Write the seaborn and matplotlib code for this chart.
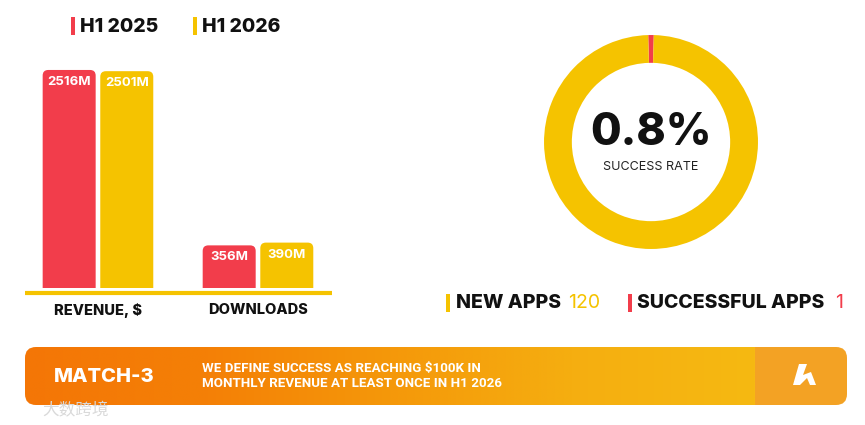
import numpy as np
import pandas as pd
import matplotlib
matplotlib.use("Agg")
import matplotlib.pyplot as plt
import seaborn as sns
from matplotlib.patches import FancyBboxPatch, Rectangle, Polygon
from matplotlib.colors import LinearSegmentedColormap

# data
metrics = ["REVENUE, $", "DOWNLOADS"]
periods = ["H1 2025", "H1 2026"]
h1_2025 = [2516, 356]
h1_2026 = [2501, 390]
new_apps = 120
successful_apps = 1
genre = "MATCH-3"
note = "WE DEFINE SUCCESS AS REACHING \\$100K IN\nMONTHLY REVENUE AT LEAST ONCE IN H1 2026"
watermark = "大数跨境"

RED = "#F23D4B"
YELLOW = "#F5C300"
W, H = 865, 425

sns.set_theme(style="white")
plt.rcParams["font.family"] = ["Inter", "DejaVu Sans"]

fig = plt.figure(figsize=(W / 100, H / 100), dpi=100)


def px_axes(x0, y0, x1, y1, **kw):
    # axes from pixel box (top-left origin)
    return fig.add_axes([x0 / W, 1 - y1 / H, (x1 - x0) / W, (y1 - y0) / H], **kw)


# background layer for banner / legend markers
bg = px_axes(0, 0, W, H, zorder=0)
bg.set_xlim(0, W)
bg.set_ylim(H, 0)
bg.axis("off")

# ---- bar chart ----
df = pd.DataFrame({
    "metric": metrics * 2,
    "period": [periods[0]] * 2 + [periods[1]] * 2,
    "value": h1_2025 + h1_2026,
})
ax = px_axes(25, 40, 332, 288, zorder=2)
sns.barplot(data=df, x="metric", y="value", hue="period", order=metrics,
            hue_order=periods, palette=[RED, YELLOW], width=0.72, gap=0.08,
            saturation=1, legend=False, ax=ax)
ax.set_xlim(-0.456, 1.4625)
ax.set_ylim(-169, 2885)
sns.despine(ax=ax, left=True, bottom=True)
ax.set_yticks([])
ax.set_xlabel("")
ax.set_ylabel("")
ax.tick_params(axis="x", length=0, pad=11)
for lab in ax.get_xticklabels():
    lab.set_fontweight("heavy")
    lab.set_fontsize(10.5)
    lab.set_color("#111111")
# baseline rule, a few px under the bars
bg.plot([25, 332], [293, 293], color=YELLOW, lw=3, solid_capstyle="butt")

fig.canvas.draw()
ybot = ax.get_ylim()[0]
p0 = ax.transData.transform((0, 0))
p1 = ax.transData.transform((1, 1))
aspect = (p1[0] - p0[0]) / (p1[1] - p0[1])
for bar in list(ax.patches):
    x, w, h = bar.get_x(), bar.get_width(), bar.get_height()
    fc = bar.get_facecolor()
    bar.set_visible(False)
    rb = FancyBboxPatch((x, ybot - 200), w, h - ybot + 200,
                        boxstyle="round,pad=0,rounding_size=0.035",
                        mutation_aspect=aspect, fc=fc, ec="none", zorder=3)
    ax.add_patch(rb)
    ax.annotate(f"{h:.0f}M", (x + w / 2, h), xytext=(0, -12),
                textcoords="offset pixels", ha="center", va="center",
                color="white", fontsize=9.5, fontweight="bold", zorder=4)

# top legend
for i, (name, col) in enumerate(zip(periods, [RED, YELLOW])):
    x0 = 71 + i * 122
    bg.add_patch(Rectangle((x0, 17), 4, 18, fc=col, ec="none"))
    bg.text(x0 + 9, 26.5, name, ha="left", va="center", fontsize=14,
            fontweight="heavy", color="#111111")

# ---- donut ----
dax = px_axes(651 - 115, 142 - 115, 651 + 115, 142 + 115, zorder=2)
share = successful_apps / new_apps
ang = 360 * share
dax.pie([successful_apps, new_apps - successful_apps], colors=[RED, YELLOW],
        startangle=90 + ang / 2, counterclock=False, radius=1,
        wedgeprops=dict(width=0.26, edgecolor="none"))
dax.set_xlim(-1.075, 1.075)
dax.set_ylim(-1.075, 1.075)
dax.set_aspect("equal")
dax.axis("off")
dax.text(0, 0.08, f"{share * 100:.1f}%", ha="center", va="center",
         fontsize=32, fontweight="heavy", color="#111111")
dax.text(0, -0.23, "SUCCESS RATE", ha="center", va="center",
         fontsize=9, color="#222222")

# bottom legend
bg.add_patch(Rectangle((446, 294), 4, 18, fc=YELLOW, ec="none"))
bg.text(456, 303.5, "NEW APPS", ha="left", va="center", fontsize=14,
        fontweight="heavy", color="#111111")
bg.text(568, 303.5, f"{new_apps}", ha="left", va="center", fontsize=14,
        color=YELLOW)
bg.add_patch(Rectangle((628, 294), 4, 18, fc=RED, ec="none"))
bg.text(637, 303.5, "SUCCESSFUL APPS", ha="left", va="center", fontsize=14,
        fontweight="heavy", color="#111111")
bg.text(835, 303.5, f"{successful_apps}", ha="left", va="center",
        fontsize=14, color=RED)

# ---- banner ----
clip = FancyBboxPatch((25, 347), 822, 58, boxstyle="round,pad=0,rounding_size=11",
                      fc="none", ec="none")
bg.add_patch(clip)
cmap = LinearSegmentedColormap.from_list(
    "ban", ["#F47606", "#F48006", "#F5980A", "#F5AE10", "#F6B912"])
grad = np.linspace(0, 1, 256).reshape(1, -1)
im = bg.imshow(grad, cmap=cmap, extent=(25, 755, 405, 347), aspect="auto",
               interpolation="bilinear")
im.set_clip_path(clip)
logo_bg = Rectangle((755, 347), 92, 58, fc="#F3A224", ec="none")
bg.add_patch(logo_bg)
logo_bg.set_clip_path(clip)
bg.set_xlim(0, W)
bg.set_ylim(H, 0)

bg.text(54, 376.5, genre, ha="left", va="center", fontsize=14.5,
        fontweight="heavy", color="white")
bg.text(202, 376, note, ha="left", va="center", fontsize=9.6,
        fontweight="bold", color="white", linespacing=1.2,
        family=["Liberation Sans Narrow", "Roboto", "DejaVu Sans"])
bg.add_patch(Polygon([(799, 364), (807, 364), (803, 375), (811, 372), (816, 385),
                      (810, 385), (807, 378), (800, 385), (793, 385)],
                     closed=True, fc="white", ec="none"))

bg.text(42, 411, watermark, ha="left", va="center", fontsize=12,
        color="#d9d9d9", family=["Noto Sans CJK SC", "DejaVu Sans"])

fig.savefig("out.png", dpi=100, facecolor="white")
